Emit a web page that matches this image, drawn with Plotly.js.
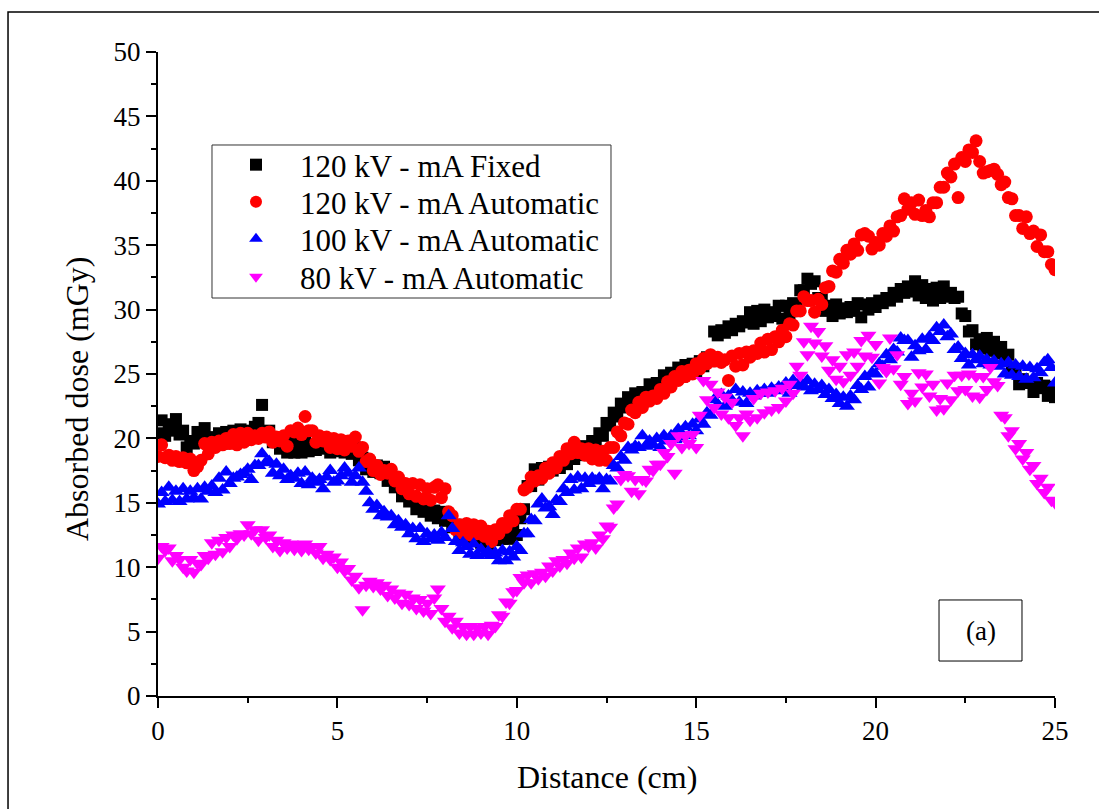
<!DOCTYPE html>
<html>
<head>
<meta charset="utf-8">
<script src="https://cdn.plot.ly/plotly-3.0.1.min.js"></script>
<style>html,body{margin:0;padding:0;background:#fff;}#chart{width:1099px;height:809px;}</style>
</head>
<body>
<div id="chart"></div>
<script>
// Distance along the phantom (cm)
const distance = [
0.0,0.1,0.2,0.3,0.4,0.5,0.6,0.7,0.8,0.9,
1.0,1.1,1.2,1.3,1.4,1.5,1.6,1.7,1.8,1.9,
2.0,2.1,2.2,2.3,2.4,2.5,2.6,2.7,2.8,2.9,
3.0,3.1,3.2,3.3,3.4,3.5,3.6,3.7,3.8,3.9,
4.0,4.1,4.2,4.3,4.4,4.5,4.6,4.7,4.8,4.9,
5.0,5.1,5.2,5.3,5.4,5.5,5.6,5.7,5.8,5.9,
6.0,6.1,6.2,6.3,6.4,6.5,6.6,6.7,6.8,6.9,
7.0,7.1,7.2,7.3,7.4,7.5,7.6,7.7,7.8,7.9,
8.0,8.1,8.2,8.3,8.4,8.5,8.6,8.7,8.8,8.9,
9.0,9.1,9.2,9.3,9.4,9.5,9.6,9.7,9.8,9.9,
10.0,10.1,10.2,10.3,10.4,10.5,10.6,10.7,10.8,10.9,
11.0,11.1,11.2,11.3,11.4,11.5,11.6,11.7,11.8,11.9,
12.0,12.1,12.2,12.3,12.4,12.5,12.6,12.7,12.8,12.9,
13.0,13.1,13.2,13.3,13.4,13.5,13.6,13.7,13.8,13.9,
14.0,14.1,14.2,14.3,14.4,14.5,14.6,14.7,14.8,14.9,
15.0,15.1,15.2,15.3,15.4,15.5,15.6,15.7,15.8,15.9,
16.0,16.1,16.2,16.3,16.4,16.5,16.6,16.7,16.8,16.9,
17.0,17.1,17.2,17.3,17.4,17.5,17.6,17.7,17.8,17.9,
18.0,18.1,18.2,18.3,18.4,18.5,18.6,18.7,18.8,18.9,
19.0,19.1,19.2,19.3,19.4,19.5,19.6,19.7,19.8,19.9,
20.0,20.1,20.2,20.3,20.4,20.5,20.6,20.7,20.8,20.9,
21.0,21.1,21.2,21.3,21.4,21.5,21.6,21.7,21.8,21.9,
22.0,22.1,22.2,22.3,22.4,22.5,22.6,22.7,22.8,22.9,
23.0,23.1,23.2,23.3,23.4,23.5,23.6,23.7,23.8,23.9,
24.0,24.1,24.2,24.3,24.4,24.5,24.6,24.7,24.8,24.9,
25.0];

// 120 kV - mA Fixed (mGy)
const dose120Fixed = [
20.4,21.4,20.2,21.1,20.6,21.5,20.3,20.6,19.3,19.8,
19.6,20.5,20.2,20.8,19.6,20.1,19.7,20.4,19.6,20.5,
19.7,20.6,19.9,20.7,19.9,20.6,20.2,20.9,21.2,22.6,
20.5,20.6,19.7,19.9,19.2,19.7,18.9,19.7,18.9,19.6,
18.9,19.8,19.0,19.5,19.1,19.7,19.2,19.7,18.9,19.8,
19.0,19.7,18.9,19.8,18.8,19.3,18.3,18.5,17.6,17.9,
17.4,17.9,17.3,17.8,16.7,17.2,16.2,16.6,15.5,15.9,
15.1,15.4,14.5,14.9,14.3,14.6,14.0,14.4,13.8,14.3,
13.6,14.0,13.1,13.3,12.5,12.8,12.3,12.7,12.1,12.5,
11.9,12.6,11.8,12.5,12.1,12.6,12.2,12.9,12.2,13.0,
12.5,13.8,14.5,16.3,16.3,17.6,16.8,17.7,17.3,17.8,
17.5,17.9,17.7,18.5,18.0,18.8,18.4,19.2,18.7,19.4,
19.0,19.8,19.5,20.4,20.2,21.2,21.0,22.0,21.7,22.7,
22.4,23.2,22.7,23.5,22.8,23.6,23.3,24.2,23.8,24.3,
24.0,24.9,24.2,25.1,24.7,25.5,24.8,25.7,25.0,25.8,
25.2,26.0,25.6,26.3,26.0,28.3,28.0,28.4,28.2,28.7,
28.4,28.9,28.7,29.1,29.0,29.8,28.9,29.9,29.1,30.0,
29.4,29.8,29.5,30.3,29.3,30.3,29.5,30.5,30.3,31.5,
31.5,32.4,32.0,32.2,30.9,30.8,29.9,30.3,29.5,30.4,
29.7,30.1,29.8,30.2,29.9,30.5,29.4,30.4,30.0,30.5,
30.2,30.7,30.5,30.9,30.7,31.3,31.0,31.6,31.3,31.8,
31.4,32.2,31.1,31.9,30.9,31.6,30.7,31.7,30.9,31.8,
31.0,31.3,30.9,31.0,29.7,29.5,28.3,28.4,27.3,27.7,
27.0,27.8,26.8,27.5,26.6,27.1,26.2,26.5,25.4,25.4,
24.2,24.6,24.3,24.4,23.6,24.3,23.9,24.1,23.3,24.0,
23.2];

// 120 kV - mA Automatic (mGy)
const dose120Auto = [
18.6,19.5,18.5,18.7,18.3,18.6,18.2,18.5,18.1,18.4,
17.5,17.8,18.3,19.6,18.8,19.7,19.3,19.8,19.5,20.0,
19.6,20.3,19.5,20.4,19.7,20.4,19.9,20.2,20.0,20.4,
20.1,20.5,19.7,20.1,19.8,20.2,19.4,20.6,20.5,20.8,
20.3,21.7,20.6,20.6,19.7,20.2,19.8,20.1,19.3,20.0,
19.2,19.9,19.1,19.8,19.4,20.1,19.0,19.3,18.2,18.4,
17.5,17.9,17.2,17.5,17.3,17.6,16.7,17.0,16.1,16.5,
15.7,16.5,15.5,16.4,15.3,16.1,15.2,16.2,16.4,15.4,
16.1,14.3,14.0,12.9,13.3,12.6,13.4,12.5,13.3,12.6,
13.2,12.4,12.8,12.0,12.9,12.6,13.4,13.1,14.0,13.6,
14.5,14.5,16.0,16.2,17.0,16.7,17.1,16.9,17.7,17.3,
18.1,17.7,18.6,18.3,19.2,18.8,19.7,18.9,19.2,18.7,
19.2,18.4,19.1,18.3,19.0,18.3,19.3,19.3,20.5,20.2,
21.2,21.1,22.2,22.0,22.8,22.4,23.2,22.9,23.3,23.1,
23.8,23.5,24.4,24.0,24.8,24.5,25.2,24.8,25.3,25.0,
25.8,25.4,26.2,25.8,26.5,26.0,26.3,25.9,26.1,24.5,
26.4,25.6,26.6,25.7,26.7,26.3,26.8,26.6,27.4,26.7,
27.7,26.9,27.9,27.5,28.4,27.9,28.9,28.8,29.9,29.9,
31.0,30.7,30.7,29.8,30.8,30.4,31.7,31.8,33.0,32.9,
33.9,33.6,34.6,34.3,35.1,34.6,35.8,35.9,35.7,34.7,
35.2,35.0,35.9,35.7,36.5,36.1,37.2,37.3,38.6,37.8,
38.3,37.4,38.5,37.3,37.7,37.2,38.3,38.3,39.5,39.5,
40.6,40.3,41.3,38.7,41.8,41.5,42.4,42.2,43.1,41.5,
40.6,40.7,40.8,40.9,40.5,39.7,39.9,38.7,38.6,37.3,
37.3,36.3,37.2,35.9,36.1,34.9,35.8,34.5,34.5,33.5,
33.1];

// 100 kV - mA Automatic (mGy)
const dose100Auto = [
14.9,15.8,15.1,16.2,15.2,15.9,15.1,16.1,15.3,15.9,
15.4,16.1,15.3,16.2,15.9,16.3,15.8,16.9,16.0,17.4,
16.5,16.9,17.0,17.2,17.3,17.6,16.8,17.9,17.9,18.8,
18.1,18.2,17.3,18.0,17.1,17.6,16.8,17.1,16.9,17.3,
16.5,17.4,16.4,16.9,16.6,16.8,16.1,17.0,17.5,16.6,
16.7,17.1,17.7,17.3,16.6,17.1,17.7,16.6,15.9,15.0,
14.5,14.8,14.0,14.3,13.9,14.0,13.3,13.6,13.1,13.3,
12.6,13.0,12.2,13.0,12.0,12.6,12.2,12.5,12.1,12.7,
12.3,14.0,13.0,12.0,11.3,11.9,11.6,11.0,11.8,10.9,
11.4,11.0,11.2,10.9,11.1,10.5,11.3,10.5,11.2,10.8,
11.6,11.3,12.6,12.6,13.7,13.6,14.9,15.3,14.6,14.7,
14.1,15.2,15.1,16.1,15.8,16.8,16.0,17.0,16.1,16.9,
16.5,16.9,16.7,16.9,16.1,16.8,16.7,17.9,17.7,18.6,
18.3,19.3,19.1,19.4,19.3,20.2,19.4,19.8,19.5,20.0,
19.3,20.2,19.8,20.2,19.9,20.7,20.0,20.9,20.2,21.1,
20.6,21.5,21.1,22.0,21.8,23.0,22.6,23.4,22.5,23.3,
22.9,23.8,22.8,23.6,22.7,23.5,23.3,23.7,23.5,23.8,
23.5,23.9,23.7,24.0,23.8,24.3,23.5,24.5,24.1,24.4,
24.0,24.5,23.7,24.2,23.8,24.1,23.4,23.8,23.1,23.4,
22.7,23.2,22.5,23.3,23.0,24.1,23.8,24.8,24.0,25.1,
25.0,25.8,25.6,26.5,26.1,26.9,26.7,27.8,27.6,27.6,
26.3,27.2,26.8,27.7,26.9,27.9,27.6,28.6,28.3,28.8,
27.9,28.1,26.9,27.1,26.2,26.6,25.7,26.5,26.1,26.4,
25.8,26.1,25.7,26.0,25.6,25.8,25.0,25.9,24.9,25.7,
24.8,25.6,24.6,25.5,24.7,25.4,25.1,25.9,26.1,25.5,
24.3];

// 80 kV - mA Automatic (mGy)
const dose80Auto = [
10.7,11.6,11.3,11.5,10.5,10.9,10.6,10.0,9.7,10.6,
9.6,10.3,10.2,10.9,10.7,11.9,11.0,12.1,11.2,12.3,
11.6,12.5,12.2,12.6,12.5,13.3,12.6,12.9,12.1,12.9,
12.3,12.5,11.6,12.1,11.3,11.9,11.5,11.8,11.4,11.7,
11.3,11.8,11.4,11.6,11.1,11.6,10.7,11.0,10.6,10.8,
10.0,10.4,9.7,9.9,9.0,9.3,8.4,6.7,8.6,8.9,
8.5,8.8,8.3,8.6,7.8,8.3,7.6,8.0,7.2,7.9,
7.1,7.6,6.8,7.5,6.6,7.2,6.4,7.6,8.3,6.8,
5.8,6.2,5.3,5.8,4.9,5.4,4.8,5.4,4.8,5.3,
4.9,5.4,4.8,5.5,5.4,6.3,6.2,7.3,7.2,8.1,
8.2,9.2,8.8,9.4,8.8,9.5,9.1,9.6,9.3,10.1,
9.7,10.5,10.1,10.6,10.3,11.1,10.7,11.5,10.8,11.8,
11.6,11.9,11.5,12.5,12.2,13.2,13.1,14.6,14.9,16.8,
17.2,17.1,15.9,16.8,15.7,16.8,16.7,17.6,17.5,18.0,
18.0,18.9,18.6,19.6,17.3,20.2,19.3,20.2,19.6,20.3,
19.3,21.8,24.5,23.0,24.2,22.4,23.6,21.9,23.2,21.6,
22.8,21.0,21.6,20.2,21.9,21.4,23.1,21.6,23.5,22.0,
23.6,22.2,23.7,22.4,23.9,22.9,24.2,23.5,25.6,24.9,
27.5,26.5,28.7,27.4,28.3,26.4,27.2,25.3,26.1,24.6,
25.6,24.4,26.5,24.9,26.7,25.6,27.6,26.4,28.0,26.3,
27.3,24.3,25.5,25.2,27.8,25.4,26.5,24.2,24.8,22.7,
23.5,22.9,25.1,24.0,25.0,23.3,24.2,22.2,23.1,22.3,
24.3,23.0,24.9,23.7,24.9,23.8,25.0,23.3,24.8,23.2,
24.8,23.8,25.5,24.4,24.1,21.8,21.6,20.2,20.6,19.2,
19.6,18.4,18.9,17.6,17.9,16.5,16.9,15.8,16.2,15.2,
15.0];

const seriesNames = ['120 kV - mA Fixed','120 kV - mA Automatic','100 kV - mA Automatic','80 kV - mA Automatic'];
const xTitle = 'Distance (cm)';
const yTitle = 'Absorbed dose (mGy)';
const panelLabel = '(a)';

const FONT = 'Liberation Serif';

const traces = [
  {x: distance, y: dose120Fixed, name: seriesNames[0], mode: 'markers', type: 'scatter', legend: 'legend',
   marker: {symbol: 'square', size: 12, color: '#000000', line: {width: 0}}},
  {x: distance, y: dose120Auto, name: seriesNames[1], mode: 'markers', type: 'scatter', legend: 'legend2',
   marker: {symbol: 'circle', size: 13, color: '#FF0000', line: {width: 0}}},
  {x: distance, y: dose100Auto, name: seriesNames[2], mode: 'markers', type: 'scatter', legend: 'legend3',
   marker: {symbol: 'triangle-up', size: 14, color: '#0000FF', line: {width: 0}}},
  {x: distance, y: dose80Auto, name: seriesNames[3], mode: 'markers', type: 'scatter', legend: 'legend4',
   marker: {symbol: 'triangle-down', size: 14, color: '#FF00FF', line: {width: 0}}}
];

const axisCommon = {
  showgrid: false, zeroline: false, showline: true, linecolor: '#000', linewidth: 2,
  ticks: 'outside', ticklen: 10, tickwidth: 2, tickcolor: '#000',
  tickfont: {family: FONT, size: 27, color: '#000'}, mirror: false,
  minor: {ticks: 'outside', ticklen: 5, tickwidth: 2, tickcolor: '#000', showgrid: false}
};

function legendAt(yPaper) {
  return {x: 0.0602, y: yPaper, xanchor: 'left', yanchor: 'middle',
    borderwidth: 0, bgcolor: 'rgba(255,255,255,0)', itemwidth: 78, itemsizing: 'constant',
    font: {family: FONT, size: 31, color: '#000'}};
}

const layout = {
  width: 1099, height: 809,
  margin: {l: 158, r: 44, t: 52, b: 113},
  paper_bgcolor: '#fff', plot_bgcolor: '#fff',
  font: {family: FONT, color: '#000'},
  showlegend: true,
  xaxis: Object.assign({}, axisCommon, {range: [0, 25], tick0: 0, dtick: 5,
    minor: Object.assign({}, axisCommon.minor, {dtick: 2.5})}),
  yaxis: Object.assign({}, axisCommon, {range: [0, 50], tick0: 0, dtick: 5,
    minor: Object.assign({}, axisCommon.minor, {dtick: 2.5})}),
  legend: legendAt(0.8245),
  legend2: legendAt(0.7670),
  legend3: legendAt(0.7095),
  legend4: legendAt(0.6505),
  shapes: [
    {type: 'rect', xref: 'paper', yref: 'paper', x0: -0.1672, x1: 1.07, y0: -0.25, y1: 1.0621,
     line: {color: '#000', width: 1.5}, fillcolor: 'rgba(0,0,0,0)', layer: 'below'},
    {type: 'rect', xref: 'paper', yref: 'paper', x0: 0.0602, x1: 0.5050, y0: 0.6180, y1: 0.8556,
     line: {color: '#333', width: 1}, fillcolor: 'rgba(0,0,0,0)'},
    {type: 'rect', xref: 'paper', yref: 'paper', x0: 0.8707, x1: 0.9632, y0: 0.0543, y1: 0.1491,
     line: {color: '#000', width: 1}, fillcolor: 'rgba(0,0,0,0)'}
  ],
  annotations: [
    {text: panelLabel, xref: 'paper', yref: 'paper', x: 0.917, y: 0.1017, showarrow: false,
     xanchor: 'center', yanchor: 'middle', font: {family: FONT, size: 27, color: '#000'}},
    {text: xTitle, xref: 'paper', yref: 'paper', x: 0.5, y: -0.1258, showarrow: false,
     xanchor: 'center', yanchor: 'middle', font: {family: FONT, size: 32, color: '#000'}},
    {text: yTitle, xref: 'paper', yref: 'paper', x: -0.0903, y: 0.4612, showarrow: false,
     textangle: -90, xanchor: 'center', yanchor: 'middle', font: {family: FONT, size: 32, color: '#000'}}
  ]
};

Plotly.newPlot('chart', traces, layout, {displayModeBar: false, staticPlot: true});
</script>
</body>
</html>
